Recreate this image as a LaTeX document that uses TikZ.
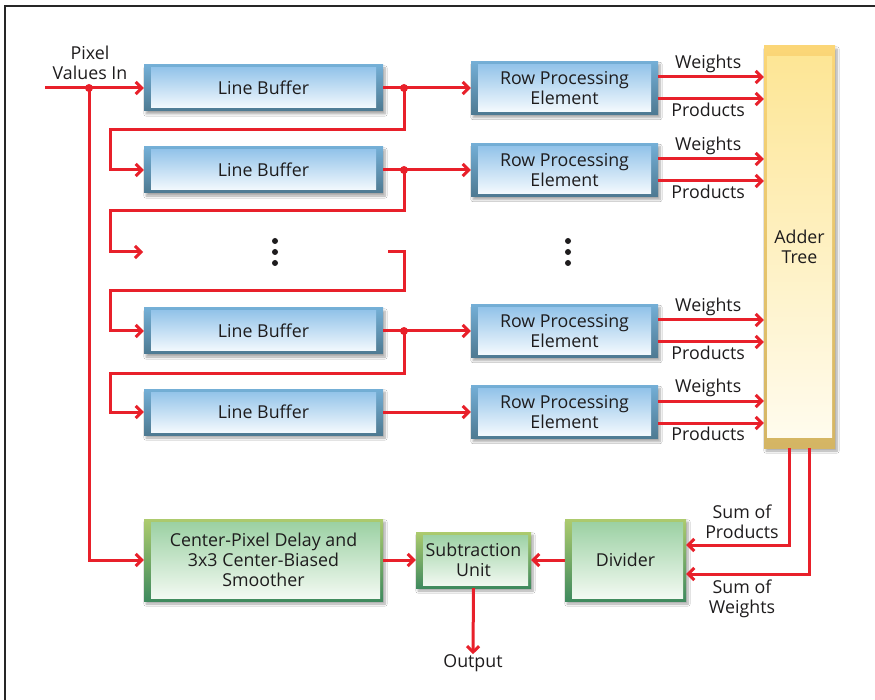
\documentclass[tikz,border=0pt]{standalone}
\usepackage{fontspec}
\setmainfont{Open Sans}
\usetikzlibrary{arrows.meta,shadows.blur,calc}
\definecolor{wirec}{HTML}{E8202A}
\definecolor{txt}{HTML}{1E1C1D}
\definecolor{bluebarT}{HTML}{74AFD6}
\definecolor{bluebarB}{HTML}{4E7A92}
\definecolor{blueinT}{HTML}{8DC0E8}
\definecolor{blueinB}{HTML}{FAFDFF}
\definecolor{greenbarT}{HTML}{ADCB6E}
\definecolor{greenbarB}{HTML}{3F8A5E}
\definecolor{greeninT}{HTML}{98CFA0}
\definecolor{greeninB}{HTML}{F6FBF5}
\definecolor{goldT}{HTML}{FBD677}
\definecolor{goldB}{HTML}{D4B564}
\definecolor{goldinT}{HTML}{FDE593}
\definecolor{goldinB}{HTML}{FFFCF0}
\tikzset{
  wire/.style={draw=wirec,line width=3pt},
  arr/.style={wire,-{Straight Barb[length=6pt,width=12pt,line width=3pt]}},
  jdot/.style={circle,fill=wirec,inner sep=0pt,minimum size=8pt},
  lbl/.style={text=txt,align=center,inner sep=0pt,font=\fontsize{17.8}{20}\selectfont},
  shad/.style={blur shadow={shadow xshift=2pt,shadow yshift=-3pt,shadow blur steps=8,shadow opacity=35}},
  bluebox/.style={lbl,shad,rectangle,top color=bluebarT,bottom color=bluebarB,
    path picture={\shade[top color=blueinT,bottom color=blueinB]
      ([xshift=7pt,yshift=-3pt]path picture bounding box.north west) rectangle
      ([xshift=-7pt,yshift=3pt]path picture bounding box.south east);}},
  greenbox/.style={lbl,shad,rectangle,top color=greenbarT,bottom color=greenbarB,
    path picture={\shade[top color=greeninT,bottom color=greeninB]
      ([xshift=7pt,yshift=-3pt]path picture bounding box.north west) rectangle
      ([xshift=-3pt,yshift=3pt]path picture bounding box.south east);}},
  goldbox/.style={lbl,shad,rectangle,top color=goldT,bottom color=goldB,
    path picture={\shade[top color=goldinT,bottom color=goldinB]
      ([xshift=3pt,yshift=-11pt]path picture bounding box.north west) rectangle
      ([xshift=-3pt,yshift=11pt]path picture bounding box.south east);}},
  lbbox/.style={bluebox,minimum width=239pt,minimum height=46pt},
  rpebox/.style={bluebox,minimum width=187pt,minimum height=53pt},
  vdots/.style={circle,fill=txt,inner sep=0pt,minimum size=6pt}
}
\begin{document}
\begin{tikzpicture}[x=1pt,y=-1pt]
\useasboundingbox (0,0) rectangle (875,700);
\fill[white] (0,0) rectangle (875,700);
\draw[line width=1.6pt,color=black!85] (5,700) -- (5,6) -- (875,6);

% line buffers
\node[lbbox] (lb1) at (263.5,88) {Line Buffer};
\node[lbbox] (lb2) at (263.5,170) {Line Buffer};
\node[lbbox] (lb3) at (263.5,331) {Line Buffer};
\node[lbbox] (lb4) at (263.5,412) {Line Buffer};

% row processing elements
\node[rpebox] (rpe1) at (564.5,88) {Row Processing\\Element};
\node[rpebox] (rpe2) at (564.5,170) {Row Processing\\Element};
\node[rpebox] (rpe3) at (564.5,331) {Row Processing\\Element};
\node[rpebox] (rpe4) at (564.5,412) {Row Processing\\Element};

% adder tree
\node[goldbox,minimum width=71pt,minimum height=402pt] (add) at (799.5,247) {Adder\\Tree};

% bottom row
\node[greenbox,minimum width=239pt,minimum height=82pt] (cp) at (263.5,560) {Center-Pixel Delay and\\3x3 Center-Biased\\Smoother};
\node[greenbox,minimum width=115pt,minimum height=56pt] (su) at (473.5,560) {Subtraction\\Unit};
\node[greenbox,minimum width=121pt,minimum height=82pt] (div) at (625.5,560) {Divider};

% labels
\node[lbl] (pvi) at (90,63) {Pixel\\Values In};
\node[lbl] (outl) at (473,663) {Output};
\node[lbl] (sop) at (742,522) {Sum of\\Products};
\node[lbl] (sow) at (742,599) {Sum of\\Weights};

% dots
\node[vdots] (d1) at (275,241) {};
\node[vdots] (d2) at (275,252) {};
\node[vdots] (d3) at (275,263) {};
\node[vdots] (e1) at (568,241) {};
\node[vdots] (e2) at (568,252) {};
\node[vdots] (e3) at (568,263) {};

% coordinates
\coordinate (in) at (45,88);
\coordinate (dl) at (143,252);
\coordinate (dr) at (388,252);

% input
\draw[arr] (in) -- (lb1.west);
\draw[arr] (89,88) |- (cp.west);
\node[jdot] (j0) at (89,88) {};

% line buffer chain
\draw[arr] (lb1.east) -- (rpe1.west);
\draw[arr] (404,88) |- (110,130) |- (lb2.west);
\node[jdot] (j1) at (404,88) {};

\draw[arr] (lb2.east) -- (rpe2.west);
\draw[arr] (404,170) |- (110,211) |- (dl);
\node[jdot] (j2) at (404,170) {};

\draw[arr] (dr) -| (404,291) -| (110,331) -- (lb3.west);

\draw[arr] (lb3.east) -- (rpe3.west);
\draw[arr] (404,331) |- (110,373) |- (lb4.west);
\node[jdot] (j3) at (404,331) {};

\draw[arr] (lb4.east) -- (rpe4.west);

% weights / products
\foreach \r in {rpe1,rpe2,rpe3,rpe4}{
  \draw[arr] ([yshift=11pt]\r.east) -- ([yshift=11pt]\r.east -| add.west);
  \draw[arr] ([yshift=-11pt]\r.east) -- ([yshift=-11pt]\r.east -| add.west);
  \node[lbl] at ([xshift=50pt,yshift=24pt]\r.east) {Weights};
  \node[lbl] at ([xshift=50pt,yshift=-22pt]\r.east) {Products};
}

% bottom connections
\draw[arr] ([xshift=-10.5pt]add.south) |- ([yshift=15pt]div.east);
\draw[arr] ([xshift=9.5pt]add.south) |- ([yshift=-14pt]div.east);
\draw[arr] (div.west) -- (su.east);
\draw[arr] (cp.east) -- (su.west);
\draw[arr] (su.south) -- (outl.north);
\end{tikzpicture}
\end{document}
